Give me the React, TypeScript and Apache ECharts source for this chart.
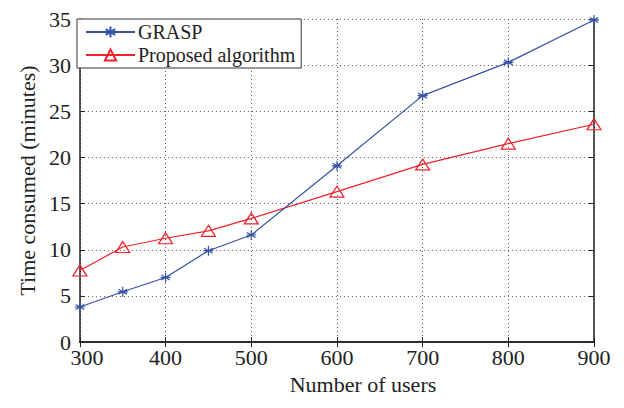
import React, { useEffect, useRef } from "react";
import * as echarts from "echarts";

const users = [300, 350, 400, 450, 500, 600, 700, 800, 900];
const graspValues = [3.8, 5.45, 7.0, 9.9, 11.6, 19.1, 26.7, 30.3, 34.9];
const proposedValues = [7.75, 10.3, 11.25, 12.05, 13.4, 16.3, 19.25, 21.5, 23.6];
const seriesNames = ["GRASP", "Proposed algorithm"];
const xTitle = "Number of users";
const yTitle = "Time consumed (minutes)";

const FONT = "'Liberation Serif', 'Times New Roman', serif";
const BLUE = "#3553a6";
const RED = "#f0202a";
const INK = "#222222";
const ASTERISK =
  "path://M0,-5L0,5M-4.33,-2.5L4.33,2.5M-4.33,2.5L4.33,-2.5M-5,0L5,0";

export default function App() {
  const ref = useRef<HTMLDivElement>(null);
  useEffect(() => {
    if (!ref.current) return;
    const chart = echarts.init(ref.current, null, { renderer: "svg" });
    const axisLine = { show: true, lineStyle: { color: INK, width: 1.5 } };
    const tick = { show: true, inside: true, length: 5, lineStyle: { color: INK, width: 1 } };
    const split = { show: true, lineStyle: { color: "#555", width: 1, type: [1, 3] as any } };
    chart.setOption({
      animation: false,
      backgroundColor: "#fff",
      textStyle: { fontFamily: FONT },
      grid: { left: 60, right: 22, top: 5, bottom: 46, containLabel: false },
      legend: {
        orient: "vertical",
        left: 69,
        top: 11,
        padding: [3, 6, 3, 8],
        itemGap: 3,
        itemWidth: 49,
        itemHeight: 14,
        backgroundColor: "#fff",
        borderColor: "#333",
        borderWidth: 1,
        borderRadius: 0,
        textStyle: { fontFamily: FONT, fontSize: 20, color: INK, padding: [0, 0, 0, -2] },
        data: seriesNames,
      },
      xAxis: [
        {
          type: "value",
          min: 300,
          max: 900,
          interval: 100,
          position: "bottom",
          axisLine,
          axisTick: tick,
          splitLine: split,
          axisLabel: {
            fontFamily: FONT,
            fontSize: 22,
            color: INK,
            margin: 4,
            formatter: (v: number) => (v === users[0] ? "{first|" + v + "}" : String(v)),
            rich: { first: { fontFamily: FONT, fontSize: 22, color: INK, padding: [0, 0, 0, 14] } },
          },
          name: xTitle,
          nameLocation: "middle",
          nameGap: 26,
          nameTextStyle: { fontFamily: FONT, fontSize: 22, color: INK, padding: [0, 0, 0, 52] },
        },
        {
          type: "value",
          min: 300,
          max: 900,
          interval: 100,
          position: "top",
          axisLine,
          axisTick: tick,
          splitLine: { show: false },
          axisLabel: { show: false },
        },
      ],
      yAxis: [
        {
          type: "value",
          min: 0,
          max: 35,
          interval: 5,
          position: "left",
          axisLine,
          axisTick: tick,
          splitLine: split,
          axisLabel: { fontFamily: FONT, fontSize: 22, color: INK, margin: 9 },
          name: yTitle,
          nameLocation: "middle",
          nameGap: 36,
          nameTextStyle: { fontFamily: FONT, fontSize: 22, color: INK },
        },
        {
          type: "value",
          min: 0,
          max: 35,
          interval: 5,
          position: "right",
          axisLine,
          axisTick: tick,
          splitLine: { show: false },
          axisLabel: { show: false },
        },
      ],
      series: [
        {
          name: seriesNames[0],
          type: "line",
          data: users.map((u, i) => [u, graspValues[i]]),
          symbol: ASTERISK,
          symbolSize: 10,
          lineStyle: { color: BLUE, width: 1.2 },
          itemStyle: { color: BLUE, borderColor: BLUE, borderWidth: 1.2 },
          z: 3,
        },
        {
          name: seriesNames[1],
          type: "line",
          data: users.map((u, i) => [u, proposedValues[i]]),
          symbol: "triangle",
          symbolSize: [14, 11],
          lineStyle: { color: RED, width: 1.2 },
          itemStyle: { color: "rgba(255,255,255,0)", borderColor: RED, borderWidth: 1.2 },
          z: 2,
        },
      ],
    });
    return () => chart.dispose();
  }, []);
  return <div ref={ref} style={{ width: 608, height: 392 }} />;
}
